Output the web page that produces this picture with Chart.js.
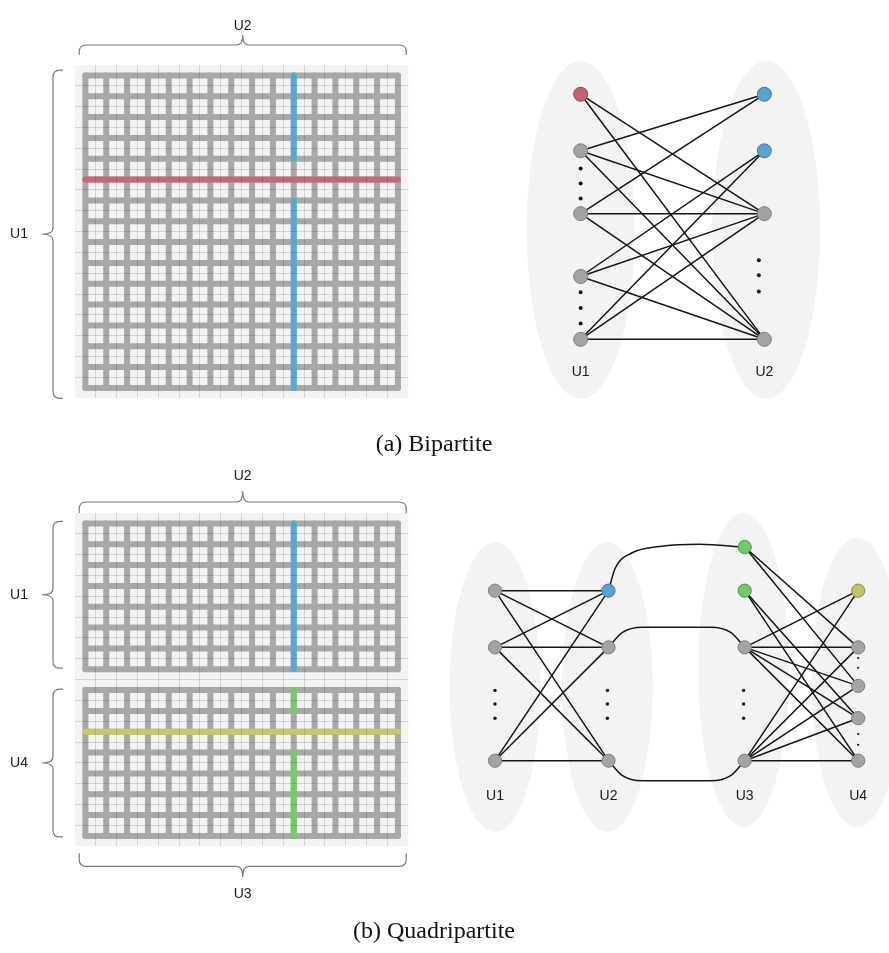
<!DOCTYPE html>
<html>
<head>
<meta charset="utf-8">
<script src="https://cdn.jsdelivr.net/npm/chart.js@4.4.1/dist/chart.umd.min.js"></script>
<style>
  html, body { margin: 0; padding: 0; background: #fff; }
  #page { position: relative; width: 889px; height: 953px; overflow: hidden; }
  canvas { position: absolute; }
  .caption {
    position: absolute; left: 0; width: 868px; text-align: center;
    font-family: "Liberation Serif", "DejaVu Serif", serif; font-size: 24px;
    line-height: 30px; color: #111; z-index: 2;
  }
</style>
</head>
<body>
<div id="page">
  <canvas id="matA" width="430" height="420" style="left:0;top:0"></canvas>
  <canvas id="graphA" width="449" height="430" style="left:440px;top:0"></canvas>
  <canvas id="matB" width="430" height="480" style="left:0;top:440px"></canvas>
  <canvas id="graphB" width="449" height="420" style="left:440px;top:440px"></canvas>
  <div class="caption" style="top:428px">(a) Bipartite</div>
  <div class="caption" style="top:915px">(b) Quadripartite</div>
</div>
<script>
// ---------------- data ----------------

// Adjacency matrices, in cell units (cell centres on integers).
const matrixTicks = [-1, 0, 1, 2, 3, 4, 5, 6, 7, 8, 9, 10, 11, 12, 13, 14, 15];
const matrixColumns = 15;                       // |U2|
const bipBlocks = [[0, 14]];                    // U1 rows
const bipRowU1 = [[[-0.5, 4.5], [14.5, 4.5]]];  // highlighted U1 row
const bipColU2 = [[[9.5, -0.5], [9.5, 3.5]], [[9.5, 5.5], [9.5, 14.5]]];
const quadBlocks = [[0, 6], [8, 14]];           // U1 rows, U4 rows
const quadColU2 = [[[9.5, -0.5], [9.5, 6.5]]];
const quadColU3 = [[[9.5, 7.5], [9.5, 8.5]], [[9.5, 10.5], [9.5, 14.5]]];
const quadRowU4 = [[[-0.5, 9.5], [14.5, 9.5]]];

// Bipartite graph
const bipPartNames = ['U1', 'U2'];
const bipPartX = [0, 1];
const bipU1Y = [0, 0.9, 1.9, 2.9, 3.9];
const bipU1Kind = ['red', 'gray', 'gray', 'gray', 'gray'];
const bipU2Y = [0, 0.9, 1.9, 3.9];
const bipU2Kind = ['blue', 'blue', 'gray', 'gray'];
const bipEdges = [[0, 2], [0, 3], [1, 0], [1, 2], [1, 3], [2, 0], [2, 2], [2, 3],
                  [3, 1], [3, 2], [3, 3], [4, 1], [4, 2], [4, 3]];
const bipDotsU1 = [1.18, 1.42, 1.66, 3.15, 3.4, 3.65];
const bipDotsU2 = [2.64, 2.88, 3.14];

// Quadripartite graph
const quadPartNames = ['U1', 'U2', 'U3', 'U4'];
const quadPartX = [0, 1, 2.2, 3.2];
const quadU1Y = [0, 1, 3];
const quadU1Kind = ['gray', 'gray', 'gray'];
const quadU2Y = [0, 1, 3];
const quadU2Kind = ['blue', 'gray', 'gray'];
const quadU3Y = [-0.77, 0, 1, 3];
const quadU3Kind = ['green', 'green', 'gray', 'gray'];
const quadU4Y = [0, 1, 1.68, 2.25, 3];
const quadU4Kind = ['yellow', 'gray', 'gray', 'gray', 'gray'];
const quadEdges12 = [[0, 0], [0, 1], [0, 2], [1, 0], [1, 1], [1, 2], [2, 0], [2, 1], [2, 2]];
const quadEdges34 = [[0, 1], [0, 2], [1, 3], [1, 4], [2, 0], [2, 1], [2, 2], [2, 3], [2, 4],
                     [3, 0], [3, 1], [3, 2], [3, 3], [3, 4]];
// U2 -> U3 links, drawn as smooth curves through these points
const quadLinks23 = [
  [[1, 0], [1.06, -0.4], [1.2, -0.66], [1.45, -0.78], [1.8, -0.82], [2.2, -0.77]],
  [[1, 1], [1.12, 0.74], [1.3, 0.645], [1.9, 0.645], [2.08, 0.74], [2.2, 1]],
  [[1, 3], [1.12, 3.26], [1.3, 3.355], [1.9, 3.355], [2.08, 3.26], [2.2, 3]]
];
const quadDotsY = [1.76, 2.0, 2.25];
const quadDotsU4 = [1.19, 1.36, 2.53, 2.72];

// ---------------- styles ----------------
const PANEL_BG = '#f3f3f3';
const LATTICE = '#a8a8a8';
const GRID_LINE = 'rgba(0,0,0,0.13)';
const EDGE = '#151515';
const MARK = { red: '#c6667a', blue: '#5aa7d3', green: '#74cb68', yellow: '#c5c86b' };
const NODE = {
  red:    { fill: '#c46272', stroke: '#94495a' },
  blue:   { fill: '#5aa3cf', stroke: '#3b7ca4' },
  green:  { fill: '#72c86a', stroke: '#4a9744' },
  yellow: { fill: '#c2c468', stroke: '#8c8e40' },
  gray:   { fill: '#a3a3a3', stroke: '#7e7e7e' }
};
const LABEL_FONT = '14px "Liberation Sans", Arial, sans-serif';

Chart.defaults.animation = false;
Chart.defaults.events = [];
Chart.defaults.plugins.legend.display = false;
Chart.defaults.plugins.tooltip.enabled = false;

// ---------------- helpers ----------------
const pts = arr => arr.map(([x, y]) => ({ x, y }));

function segment(points, color, width, order) {
  return {
    type: 'scatter', showLine: true, data: pts(points),
    borderColor: color, borderWidth: width, borderCapStyle: 'round',
    pointRadius: 0, tension: 0, order, clip: false
  };
}

function latticeSets(cols, blocks) {
  const sets = [];
  const x0 = -0.5, x1 = cols - 0.5;
  blocks.forEach(([r0, r1]) => {
    for (let r = r0 - 0.5; r <= r1 + 0.5; r += 1) sets.push(segment([[x0, r], [x1, r]], LATTICE, 6, 5));
    for (let c = x0; c <= x1; c += 1) sets.push(segment([[c, r0 - 0.5], [c, r1 + 0.5]], LATTICE, 6, 5));
  });
  return sets;
}

function gridAxis(ticks, reverse) {
  const lo = ticks[0], hi = ticks[ticks.length - 1];
  return {
    type: 'linear', min: lo, max: hi, reverse: !!reverse,
    afterBuildTicks: s => { s.ticks = ticks.map(v => ({ value: v })); },
    grid: {
      z: 1, lineWidth: 1, drawTicks: false,
      color: c => (c.tick && (c.tick.value === lo || c.tick.value === hi)) ? 'rgba(0,0,0,0)' : GRID_LINE
    },
    border: { display: false },
    ticks: { display: false }
  };
}

const panelPlugin = {
  id: 'panel',
  beforeDraw(chart) {
    const { ctx, chartArea: a } = chart;
    ctx.save();
    ctx.fillStyle = PANEL_BG;
    ctx.fillRect(a.left, a.top, a.right - a.left, a.bottom - a.top);
    ctx.restore();
  }
};

function drawBrace(ctx, p0, p1, n, h, t) {
  const L = Math.hypot(p1[0] - p0[0], p1[1] - p0[1]);
  const u = [(p1[0] - p0[0]) / L, (p1[1] - p0[1]) / L];
  const P = (s, d) => [p0[0] + s * u[0] + d * n[0], p0[1] + s * u[1] + d * n[1]];
  const r = Math.min(7, h), m = L / 2, k = 6;
  ctx.beginPath();
  ctx.moveTo(...P(0, 0));
  ctx.lineTo(...P(0, h - r));
  ctx.quadraticCurveTo(...P(0, h), ...P(r, h));
  ctx.lineTo(...P(m - k, h));
  ctx.quadraticCurveTo(...P(m, h), ...P(m, h + t));
  ctx.quadraticCurveTo(...P(m, h), ...P(m + k, h));
  ctx.lineTo(...P(L - r, h));
  ctx.quadraticCurveTo(...P(L, h), ...P(L, h - r));
  ctx.lineTo(...P(L, 0));
  ctx.stroke();
}

// Curly braces naming the parts along the matrix sides
const bracePlugin = {
  id: 'braces',
  afterDraw(chart, args, opts) {
    const { ctx, chartArea: a } = chart;
    const xs = chart.scales.x, ys = chart.scales.y;
    ctx.save();
    ctx.strokeStyle = '#7a7a7a';
    ctx.lineWidth = 1.2;
    ctx.font = LABEL_FONT;
    ctx.fillStyle = '#1a1a1a';
    ctx.textAlign = 'center';
    ctx.textBaseline = 'middle';
    (opts.items || []).forEach(b => {
      if (b.side === 'left') {
        const p = ys.getPixelForValue(b.from), q = ys.getPixelForValue(b.to);
        const e = a.left - b.gap;
        drawBrace(ctx, [e, p], [e, q], [-1, 0], b.depth, b.tip);
        ctx.fillText(b.label, a.left - b.labelAt, (p + q) / 2);
      } else {
        const dir = b.side === 'top' ? -1 : 1;
        const edge = b.side === 'top' ? a.top : a.bottom;
        const p = xs.getPixelForValue(b.from), q = xs.getPixelForValue(b.to);
        const e = edge + dir * b.gap;
        drawBrace(ctx, [p, e], [q, e], [0, dir], b.depth, b.tip);
        ctx.fillText(b.label, (p + q) / 2, edge + dir * b.labelAt);
      }
    });
    ctx.restore();
  }
};

function matrixChart(id, cfg) {
  const datasets = latticeSets(matrixColumns, cfg.blocks);
  cfg.marks.forEach(m => m.lines.forEach(l => datasets.push(segment(l, MARK[m.color], 6, 3))));
  return new Chart(document.getElementById(id), {
    type: 'scatter',
    data: { datasets },
    options: {
      responsive: false,
      layout: { autoPadding: false, padding: cfg.padding },
      scales: { x: gridAxis(matrixTicks), y: gridAxis(matrixTicks, true) },
      plugins: { braces: { items: cfg.braces } }
    },
    plugins: [panelPlugin, bracePlugin]
  });
}

// Light ellipses behind each part, and the part names under them
const partsPlugin = {
  id: 'parts',
  beforeDatasetsDraw(chart, args, opts) {
    const { ctx } = chart;
    const xs = chart.scales.x, ys = chart.scales.y;
    ctx.save();
    ctx.fillStyle = PANEL_BG;
    opts.ellipses.forEach(e => {
      const cx = xs.getPixelForValue(e.cx), cy = ys.getPixelForValue(e.cy);
      const rx = Math.abs(xs.getPixelForValue(e.cx + e.rx) - cx);
      const ry = Math.abs(ys.getPixelForValue(e.cy + e.ry) - cy);
      ctx.beginPath();
      ctx.ellipse(cx, cy, rx, ry, 0, 0, Math.PI * 2);
      ctx.fill();
    });
    ctx.restore();
  },
  afterDatasetsDraw(chart, args, opts) {
    const { ctx } = chart;
    const xs = chart.scales.x, ys = chart.scales.y;
    ctx.save();
    ctx.font = LABEL_FONT;
    ctx.fillStyle = '#1a1a1a';
    ctx.textAlign = 'center';
    ctx.textBaseline = 'middle';
    opts.names.forEach((n, i) => ctx.fillText(n, xs.getPixelForValue(opts.nameX[i]), ys.getPixelForValue(opts.nameY)));
    ctx.restore();
  }
};

function nodeSet(xs, ys, kinds, radius) {
  return {
    type: 'scatter', order: 0, clip: false,
    data: ys.map((y, i) => ({ x: xs[i], y })),
    pointRadius: radius, pointBorderWidth: 1,
    pointBackgroundColor: kinds.map(k => NODE[k].fill),
    pointBorderColor: kinds.map(k => NODE[k].stroke)
  };
}

function dotSet(x, ys, radius) {
  return {
    type: 'scatter', order: 1, clip: false,
    data: ys.map(y => ({ x, y })),
    pointRadius: radius, pointBorderWidth: 0,
    pointBackgroundColor: '#111', pointBorderColor: '#111'
  };
}

function edgeSets(xa, ya, xb, yb, pairs) {
  return pairs.map(([i, j]) => segment([[xa, ya[i]], [xb, yb[j]]], EDGE, 1.5, 2));
}

function graphChart(id, cfg) {
  return new Chart(document.getElementById(id), {
    type: 'scatter',
    data: { datasets: cfg.datasets },
    options: {
      responsive: false,
      layout: { autoPadding: false, padding: cfg.padding },
      scales: {
        x: { type: 'linear', display: false, min: cfg.x[0], max: cfg.x[1] },
        y: { type: 'linear', display: false, min: cfg.y[0], max: cfg.y[1], reverse: true }
      },
      plugins: { parts: cfg.parts }
    },
    plugins: [partsPlugin]
  });
}

// ---------------- (a) bipartite ----------------
matrixChart('matA', {
  blocks: bipBlocks,
  padding: { left: 75, top: 65, right: 21.67, bottom: 21.67 },
  marks: [{ color: 'red', lines: bipRowU1 }, { color: 'blue', lines: bipColU2 }],
  braces: [
    { side: 'top', from: -0.8, to: 14.9, gap: 10, depth: 10, tip: 10, labelAt: 39, label: 'U2' },
    { side: 'left', from: -0.75, to: 15.0, gap: 12, depth: 10, tip: 11, labelAt: 56, label: 'U1' }
  ]
});

graphChart('graphA', {
  padding: { left: 122.3, right: 106.3, top: 81.7, bottom: 78.1 },
  x: [-0.1, 1.1], y: [-0.2, 4.1],
  parts: {
    ellipses: [
      { cx: 0, cy: 2.16, rx: 0.294, ry: 2.69 },
      { cx: 1.01, cy: 2.16, rx: 0.294, ry: 2.69 }
    ],
    names: bipPartNames, nameX: bipPartX, nameY: 4.42
  },
  datasets: [
    nodeSet(bipU1Y.map(() => bipPartX[0]), bipU1Y, bipU1Kind, 7),
    nodeSet(bipU2Y.map(() => bipPartX[1]), bipU2Y, bipU2Kind, 7),
    dotSet(bipPartX[0], bipDotsU1, 2),
    dotSet(bipPartX[1] - 0.03, bipDotsU2, 2),
    ...edgeSets(bipPartX[0], bipU1Y, bipPartX[1], bipU2Y, bipEdges)
  ]
});

// ---------------- (b) quadripartite ----------------
matrixChart('matB', {
  blocks: quadBlocks,
  padding: { left: 75, top: 73, right: 21.67, bottom: 73.67 },
  marks: [
    { color: 'blue', lines: quadColU2 },
    { color: 'green', lines: quadColU3 },
    { color: 'yellow', lines: quadRowU4 }
  ],
  braces: [
    { side: 'top', from: -0.8, to: 14.9, gap: 0, depth: 11, tip: 11, labelAt: 37, label: 'U2' },
    { side: 'bottom', from: -0.8, to: 14.9, gap: 7, depth: 13, tip: 11, labelAt: 48, label: 'U3' },
    { side: 'left', from: -0.6, to: 6.45, gap: 12, depth: 10, tip: 11, labelAt: 56, label: 'U1' },
    { side: 'left', from: 7.45, to: 14.55, gap: 12, depth: 10, tip: 11, labelAt: 56, label: 'U4' }
  ]
});

graphChart('graphB', {
  padding: { left: 32.3, right: 8.1, top: 94, bottom: 99.3 },
  x: [-0.2, 3.4], y: [-1, 3],
  parts: {
    ellipses: [
      { cx: 0, cy: 1.7, rx: 0.4, ry: 2.56 },
      { cx: 0.99, cy: 1.7, rx: 0.4, ry: 2.56 },
      { cx: 2.19, cy: 1.4, rx: 0.4, ry: 2.77 },
      { cx: 3.19, cy: 1.62, rx: 0.4, ry: 2.55 }
    ],
    names: quadPartNames, nameX: quadPartX, nameY: 3.62
  },
  datasets: [
    nodeSet(quadU1Y.map(() => quadPartX[0]), quadU1Y, quadU1Kind, 6.6),
    nodeSet(quadU2Y.map(() => quadPartX[1]), quadU2Y, quadU2Kind, 6.6),
    nodeSet(quadU3Y.map(() => quadPartX[2]), quadU3Y, quadU3Kind, 6.6),
    nodeSet(quadU4Y.map(() => quadPartX[3]), quadU4Y, quadU4Kind, 6.6),
    dotSet(quadPartX[0], quadDotsY, 1.7),
    dotSet(quadPartX[1] - 0.01, quadDotsY, 1.7),
    dotSet(quadPartX[2] - 0.01, quadDotsY, 1.7),
    dotSet(quadPartX[3], quadDotsU4, 1.1),
    ...edgeSets(quadPartX[0], quadU1Y, quadPartX[1], quadU2Y, quadEdges12),
    ...edgeSets(quadPartX[2], quadU3Y, quadPartX[3], quadU4Y, quadEdges34),
    ...quadLinks23.map(c => ({
      ...segment(c, EDGE, 1.5, 2), cubicInterpolationMode: 'monotone'
    }))
  ]
});
</script>
</body>
</html>
